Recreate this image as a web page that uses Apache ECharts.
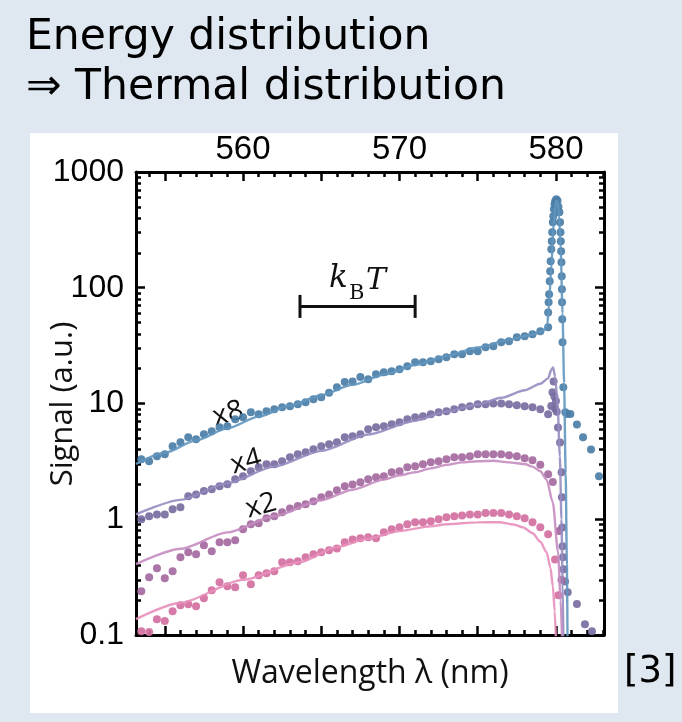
<!DOCTYPE html>
<html>
<head>
<meta charset="utf-8">
<script src="https://cdn.jsdelivr.net/npm/echarts@6/dist/echarts.min.js"></script>
<style>
html, body { margin: 0; padding: 0; background: #dfe7f1; }
#chart { width: 682px; height: 722px; }
</style>
</head>
<body>
<div id="chart"></div>
<script>
// wavelength grid of the measured points (nm)
const wl = [553.5, 554, 554.5, 555, 555.5, 556, 556.5, 557, 557.5, 558,
            558.5, 559, 559.5, 560, 560.5, 561, 561.5, 562, 562.5, 563,
            563.5, 564, 564.5, 565, 565.5, 566, 566.5, 567, 567.5, 568,
            568.5, 569, 569.5, 570, 570.5, 571, 571.5, 572, 572.5, 573,
            573.5, 574, 574.5, 575, 575.5, 576, 576.5, 577, 577.5, 578,
            578.5, 579, 579.5];

// measured signal, already multiplied (x8, x4, x2, x1)
const dotsX8 = [3.3, 3.17, 3.5, 3.65, 4.27, 4.63, 5.11, 4.91, 5.42, 5.76,
                6.23, 6.36, 7.31, 7.6, 8.4, 8.07, 8.57, 8.92, 9.28, 9.47,
                9.85, 10.25, 10.9, 11.3, 12.4, 13.8, 15.3, 15.5, 16.9, 16.2,
                17.9, 18.6, 19.0, 19.8, 21.0, 22.7, 22.7, 23.2, 24.1, 25.1,
                26.6, 26.6, 28.3, 28.3, 30.6, 31.2, 33.8, 34.5, 37.4, 38.1,
                39.7, 42.1, 45.6];
const dotsX4 = [1.0, 1.06, 1.10, 1.10, 1.22, 1.27, 1.58, 1.64, 1.75, 1.82,
                1.93, 2.01, 2.22, 2.35, 2.60, 2.81, 2.99, 2.99, 3.17, 3.43,
                3.64, 3.79, 4.02, 4.27, 4.45, 4.63, 5.11, 5.21, 5.42, 5.99,
                6.23, 6.36, 6.62, 6.89, 7.31, 7.61, 7.76, 8.07, 8.40, 8.57,
                8.92, 9.28, 9.47, 9.85, 9.85, 10.0, 10.0, 9.85, 9.64, 9.47,
                9.28, 8.92, 8.07];
const dotsX2 = [0.239, 0.315, 0.377, 0.309, 0.356, 0.47, 0.519, 0.499, 0.596, 0.529,
                0.633, 0.633, 0.659, 0.82, 0.905, 0.923, 1.02, 1.06, 1.15, 1.24,
                1.30, 1.35, 1.43, 1.55, 1.64, 1.78, 1.93, 2.0, 2.09, 2.22,
                2.31, 2.35, 2.55, 2.60, 2.81, 2.87, 2.99, 3.11, 3.17, 3.30,
                3.43, 3.43, 3.50, 3.64, 3.64, 3.64, 3.64, 3.57, 3.50, 3.36,
                3.23, 2.95, 2.45];
const dotsX1 = [0.108, 0.106, 0.137, 0.132, 0.160, 0.181, 0.184, 0.177, 0.208, 0.244,
                0.286, 0.264, 0.259, 0.328, 0.274, 0.328, 0.341, 0.356, 0.425, 0.425,
                0.434, 0.47, 0.499, 0.519, 0.54, 0.56, 0.633, 0.67, 0.685, 0.70,
                0.685, 0.772, 0.82, 0.853, 0.905, 0.942, 0.942, 0.961, 1.0, 1.04,
                1.06, 1.08, 1.10, 1.10, 1.13, 1.13, 1.13, 1.10, 1.06, 1.02,
                0.942, 0.853, 0.742];

// extra points around the condensate peak [nm, signal]
const peakX8 = [[579.5, 61], [579.53, 75], [579.56, 88], [579.6, 114], [579.63, 139],
                [579.66, 169], [579.7, 215], [579.73, 252], [579.76, 302], [579.8, 368],
                [579.83, 415], [579.87, 477], [579.91, 526], [579.95, 559], [580.02, 582],
                [580.1, 565], [580.16, 500], [580.22, 449], [580.26, 368], [580.29, 302],
                [580.31, 252], [580.33, 207], [580.35, 166], [580.37, 126], [580.38, 97],
                [580.39, 75], [580.4, 53.5], [580.42, 33.8], [580.47, 13.8], [580.6, 8.4],
                [580.72, 8.1], [580.92, 8.1], [581.34, 6.6], [581.73, 5.1], [582.24, 4.0],
                [582.75, 2.35]];
const peakX4 = [[579.7, 9.5], [579.78, 12.5], [579.85, 15.5], [579.9, 11.5], [579.95, 9.0],
                [580.0, 10.5], [580.05, 8.5], [580.13, 6.2], [580.26, 4.6], [580.36, 2.55],
                [580.38, 1.55], [580.4, 0.85], [580.42, 0.585], [580.45, 0.47], [580.48, 0.37],
                [580.58, 0.29], [580.75, 0.234], [581.34, 0.185], [581.85, 0.124], [582.3, 0.108]];
const peakX2 = [[579.8, 2.1], [580.2, 0.79], [580.35, 0.3]];
const peakX1 = [[579.94, 0.45], [580.15, 0.22]];

// fitted thermal distributions [nm, signal]
const fitX8 = [[553.16, 3.0], [555, 3.75], [557, 4.8], [559, 6.1], [561, 7.7], [563, 9.6],
               [565, 11.8], [567, 14.5], [569, 17.7], [571, 21.5], [573, 25.8], [575, 30.5],
               [577, 35.5], [578.5, 39.5], [579.2, 42.5], [579.45, 48], [579.55, 70],
               [579.7, 150], [579.85, 350], [580.0, 560], [580.1, 560], [580.2, 420],
               [580.3, 220], [580.42, 60], [580.52, 15], [580.62, 2.5], [580.7, 0.4], [580.74, 0.08]];
const fitX4 = [[553.16, 1.1], [556, 1.47], [559, 2.05], [562, 2.85], [565, 3.9], [568, 5.4],
               [571, 7.1], [573, 8.5], [575, 9.8], [576.5, 11.2], [578, 13.0], [579, 14.8],
               [579.5, 16.5], [579.7, 19.5], [579.82, 20.5], [579.95, 17], [580.1, 10],
               [580.25, 3.5], [580.35, 1.0], [580.42, 0.3], [580.48, 0.08]];
const fitX2 = [[553.16, 0.41], [556, 0.556], [559, 0.77], [562, 1.06], [565, 1.46], [567, 1.8],
               [569, 2.2], [570, 2.4], [571, 2.55], [572, 2.75], [573, 2.95], [574, 3.1],
               [575, 3.17], [576, 3.2], [577, 3.1], [578, 3.0], [578.5, 2.85], [579, 2.6],
               [579.4, 2.2], [579.8, 1.4], [580.13, 0.52], [580.3, 0.2], [580.4, 0.08]];
const fitX1 = [[553.16, 0.137], [556, 0.19], [560, 0.3], [563.6, 0.425], [566, 0.575],
               [568, 0.68], [570, 0.79], [572, 0.87], [573, 0.905], [575, 0.94], [576.4, 0.942],
               [577.3, 0.9], [577.9, 0.85], [578.5, 0.76], [579.0, 0.64], [579.4, 0.52],
               [579.65, 0.38], [579.8, 0.264], [579.92, 0.16], [580.0, 0.09]];

// kB T scale bar
const kbtBar = [[563.64, 69], [571.0, 69]];

// tick values
const xMajor = [555, 560, 565, 570, 575, 580];
const xMinor = [554, 556, 557, 558, 559, 561, 562, 563, 564, 566, 567, 568, 569,
                571, 572, 573, 574, 576, 577, 578, 579, 581, 582, 583];
const xLabels = [560, 570, 580];
const yMinor = [0.2, 0.3, 0.4, 0.5, 0.6, 0.7, 0.8, 0.9, 2, 3, 4, 5, 6, 7, 8, 9,
                20, 30, 40, 50, 60, 70, 80, 90, 200, 300, 400, 500, 600, 700, 800, 900];

const XMIN = 553.16, XMAX = 583.07;
const tickFont = 'Liberation Sans';
const textFont = 'Open Sans';

function zip(xs, ys) { return xs.map((x, i) => [x, ys[i]]); }

function xAxisDef(pos, ticks, len, line, labels) {
  return {
    type: 'value', position: pos, min: XMIN, max: XMAX,
    axisLine: { show: line, lineStyle: { color: '#000', width: 3 } },
    axisTick: { show: true, inside: true, length: len, customValues: ticks,
                lineStyle: { color: '#000', width: 2.5 } },
    axisLabel: labels ? { show: true, customValues: labels, margin: 6,
                          fontFamily: tickFont, fontSize: 33, color: '#000' }
                      : { show: false },
    splitLine: { show: false }
  };
}
function yAxisDef(pos, ticks, len, line, labels) {
  const ax = {
    type: 'log', logBase: 10, position: pos, min: 0.1, max: 1000,
    axisLine: { show: line, lineStyle: { color: '#000', width: 3 } },
    axisTick: { show: true, inside: true, length: len,
                lineStyle: { color: '#000', width: 2.5 } },
    axisLabel: labels ? { show: true, margin: 12, fontFamily: tickFont,
                          fontSize: 32, color: '#000', formatter: v => String(v) }
                      : { show: false },
    splitLine: { show: false }
  };
  if (ticks) ax.axisTick.customValues = ticks;
  return ax;
}

const groups = [
  { dots: zip(wl, dotsX8).concat(peakX8), fit: fitX8, dot: '#4a7ea7', line: '#6296bf' },
  { dots: zip(wl, dotsX4).concat(peakX4), fit: fitX4, dot: '#786c9f', line: '#978cc0' },
  { dots: zip(wl, dotsX2).concat(peakX2), fit: fitX2, dot: '#a4699f', line: '#c48cc0' },
  { dots: zip(wl, dotsX1).concat(peakX1), fit: fitX1, dot: '#d2709f', line: '#e88fbb' }
];

const series = [];
groups.forEach(g => {
  series.push({
    type: 'scatter', data: g.dots, symbolSize: 8, z: 3,
    itemStyle: { color: g.dot, opacity: 0.92 }
  });
  series.push({
    type: 'line', data: g.fit, showSymbol: false, smooth: 0.25, smoothMonotone: 'x',
    z: 4, lineStyle: { color: g.line, width: 2.4, opacity: 0.9 }
  });
});
series.push({
  type: 'line', data: kbtBar, symbol: 'rect', symbolSize: [3, 23], z: 5,
  itemStyle: { color: '#111' }, lineStyle: { color: '#111', width: 3 }
});

const chart = echarts.init(document.getElementById('chart'));
chart.setOption({
  backgroundColor: '#dfe7f1',
  animation: false,
  grid: { left: 136, top: 172, width: 468, height: 463 },
  xAxis: [
    xAxisDef('bottom', xMajor, 9, true, null),
    xAxisDef('bottom', xMinor, 5, false, null),
    xAxisDef('top', xMajor, 9, true, xLabels),
    xAxisDef('top', xMinor, 5, false, null)
  ],
  yAxis: [
    yAxisDef('left', null, 9, true, true),
    yAxisDef('left', yMinor, 5, false, false),
    yAxisDef('right', null, 9, true, false),
    yAxisDef('right', yMinor, 5, false, false)
  ],
  series: series,
  graphic: [
    { type: 'rect', z: -10, shape: { x: 30, y: 133, width: 588, height: 580 },
      style: { fill: '#ffffff' } },
    { type: 'text', x: 26, y: 38, style: { text: 'Energy distribution', fontFamily: 'DejaVu Sans',
      fontSize: 42.5, fill: '#000', verticalAlign: 'middle' } },
    { type: 'text', x: 26, y: 88, style: { text: '\u21D2 Thermal distribution', fontFamily: 'DejaVu Sans',
      fontSize: 42.5, fill: '#000', verticalAlign: 'middle' } },
    { type: 'text', x: 624, y: 672, style: { text: '[3]', fontFamily: 'DejaVu Sans',
      fontSize: 37, fill: '#000', verticalAlign: 'middle' } },
    { type: 'text', x: 370, y: 674, style: { text: 'Wavelength \u03BB (nm)', fontFamily: textFont,
      fontSize: 32, fill: '#111', align: 'center', verticalAlign: 'middle' } },
    { type: 'text', x: 63, y: 404, rotation: Math.PI / 2, style: { text: 'Signal (a.u.)',
      fontFamily: textFont, fontSize: 31, fill: '#111', align: 'center', verticalAlign: 'middle' } },
    { type: 'text', x: 228, y: 414, rotation: 0.26, style: { text: 'x8', fontFamily: textFont,
      fontSize: 28, fill: '#111', align: 'center', verticalAlign: 'middle' } },
    { type: 'text', x: 246, y: 462, rotation: 0.26, style: { text: 'x4', fontFamily: textFont,
      fontSize: 28, fill: '#111', align: 'center', verticalAlign: 'middle' } },
    { type: 'text', x: 261, y: 506, rotation: 0.26, style: { text: 'x2', fontFamily: textFont,
      fontSize: 28, fill: '#111', align: 'center', verticalAlign: 'middle' } },
    { type: 'text', x: 329, y: 294, style: { text: 'k', fontFamily: 'DejaVu Serif', fontStyle: 'italic',
      fontSize: 31, fill: '#111', verticalAlign: 'bottom' } },
    { type: 'text', x: 349, y: 304, style: { text: 'B', fontFamily: 'DejaVu Serif',
      fontSize: 21, fill: '#111', verticalAlign: 'bottom' } },
    { type: 'text', x: 366, y: 296, style: { text: 'T', fontFamily: 'DejaVu Serif', fontStyle: 'italic',
      fontSize: 30, fill: '#111', verticalAlign: 'bottom' } }
  ]
});
</script>
</body>
</html>
